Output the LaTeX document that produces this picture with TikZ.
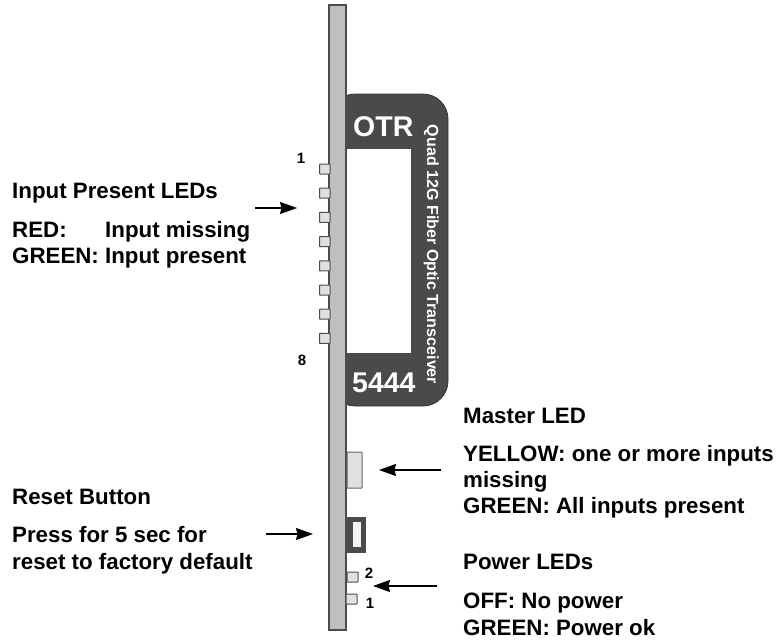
\documentclass[tikz,border=0pt]{standalone}
\usepackage{fontspec}
\setmainfont{Liberation Sans}
\usetikzlibrary{arrows.meta}
\definecolor{panelgray}{gray}{0.75}
\definecolor{labelgray}{gray}{0.29}
\definecolor{ledgray}{gray}{0.88}
\tikzset{
  led/.style={draw=black!70,fill=ledgray,line width=1pt,rounded corners=0.5pt},
  caption/.style={anchor=base west,inner sep=0pt,font=\bfseries\fontsize{22.3}{22.3}\selectfont},
  pinlabel/.style={anchor=base,inner sep=0pt,font=\bfseries\fontsize{15}{15}\selectfont},
  plate/.style={anchor=base west,inner sep=0pt,text=white,font=\bfseries\fontsize{28.5}{28.5}\selectfont},
  callout/.style={-{Stealth[length=17pt,width=12pt,inset=1.5pt]},line width=1.4pt}
}

\begin{document}
\begin{tikzpicture}[x=1pt,y=-1pt]
      \useasboundingbox (0,0) rectangle (778,640);
      \begin{scope}
        \fill[labelgray,draw=black!80,line width=0.8pt,rounded corners=25pt] (330,94) -- (448,94) -- (448,406) -- (330,406) -- cycle;
        \fill[white] (346,149) rectangle (411,353);
        \draw[panelgray!40!black,fill=panelgray,line width=1.2pt] (329,5) rectangle (346,630);
      \end{scope}
      \node[plate] (otr) at (353,136) {OTR};
      \node[plate] (num) at (352,392) {5444};
      \node[rotate=-90,anchor=base west,inner sep=0pt,text=white,font=\bfseries\fontsize{16.1}{16.1}\selectfont] (title) at (427,124.5) {Quad 12G Fiber Optic Transceiver};
      % leds on the left edge
      \foreach \y in {169,193.2,217.4,241.6,265.8,290,314.2,338.4}
        \draw[led] (319.5,\y-5) rectangle (330,\y+5);
      \draw[led,draw=black!60] (347,452) rectangle (362,488);
      \draw[draw=black!70,fill=labelgray,line width=1pt] (347,517) rectangle (365,552);
      \draw[draw=black!70,fill=ledgray!40,line width=1pt] (352.5,521) rectangle (361,547);
      \draw[led] (347,572) rectangle (358,582);
      \draw[led] (346,594) rectangle (357,604);
      \node[pinlabel] (one) at (301,163) {1};
      \node[pinlabel] (eight) at (302,365) {8};
      \node[pinlabel] (two) at (369,578) {2};
      \node[pinlabel] (onepwr) at (370,608) {1};
      % left texts
      \node[caption] (inputs) at (12,198) {Input Present LEDs};
      \node[caption] (red) at (12,237.5) {RED:};
      \node[caption] (missing) at (105,237.5) {Input missing};
      \node[caption] (green) at (12,263) {GREEN: Input present};
      \node[caption] (reset) at (12,504) {Reset Button};
      \node[caption] (press) at (12,542.5) {Press for 5 sec for};
      \node[caption] (factory) at (12,569) {reset to factory default};
      % right texts
      \node[caption] (master) at (463,423) {Master LED};
      \node[caption] (yellow) at (463,461) {YELLOW: one or more inputs};
      \node[caption] (miss) at (463,487) {missing};
      \node[caption] (allin) at (463,513) {GREEN: All inputs present};
      \node[caption] (power) at (463,569) {Power LEDs};
      \node[caption] (off) at (463,608) {OFF: No power};
      \node[caption] (ok) at (463,635) {GREEN: Power ok};
      % arrows
      \coordinate (a1) at (255,208);
      \coordinate (b1) at (297,208);
      \coordinate (a2) at (441,470);
      \coordinate (b2) at (379,470);
      \coordinate (a3) at (266,534);
      \coordinate (b3) at (313,534);
      \coordinate (a4) at (437,586);
      \coordinate (b4) at (373,586);
      \foreach \s/\t in {a1/b1,a2/b2,a3/b3,a4/b4}
        \draw[callout] (\s) -- (\t);
  \end{tikzpicture}
\end{document}
